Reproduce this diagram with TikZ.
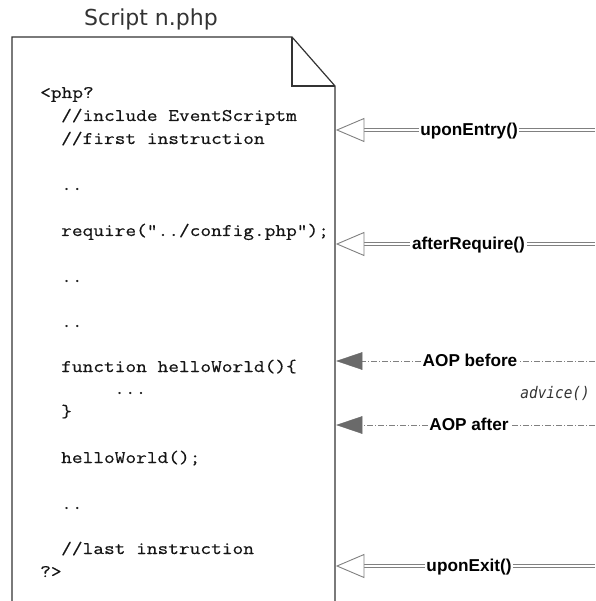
\documentclass[tikz,border=0pt]{standalone}
\usepackage{fontspec}
\setmainfont{Liberation Sans}
\newfontfamily\codefont[FakeStretch=1.175,FakeBold=0.5]{Latin Modern Mono}
\newfontfamily\titlefont{DejaVu Sans}
\newfontfamily\advfont[FakeStretch=0.9]{DejaVu Sans Mono}
\definecolor{docgray}{HTML}{333333}
\definecolor{linegray}{HTML}{808080}
\definecolor{trigray}{HTML}{6A6A6A}
\definecolor{codeblack}{HTML}{151515}
\begin{document}
\begin{tikzpicture}[x=1pt,y=-1pt,
  code/.style={anchor=base west, inner sep=0pt, text=codeblack, font=\codefont\fontsize{17.7}{20}\selectfont},
  lbl/.style={anchor=base, fill=white, inner xsep=1.5pt, inner ysep=1pt, font=\bfseries\fontsize{17.2}{20}\selectfont},
  dbl/.style={draw=linegray, line width=0.8pt, double=white, double distance=2.4pt},
  dashline/.style={draw=linegray, line width=0.8pt, dash pattern=on 6pt off 2pt on 1pt off 2pt},
  opentri/.style={draw=linegray, line width=0.9pt, fill=white, line join=miter},
  filltri/.style={fill=trigray, draw=trigray, line width=0.5pt, line join=miter},
  doc/.style={draw=docgray, line width=1.2pt, line join=miter}]

\useasboundingbox (0,0) rectangle (595,601);

% title
\node[anchor=base, inner sep=0pt, text=docgray, font=\titlefont\fontsize{22}{26}\selectfont] (title) at (151,26) {Script n.php};

% document outline with folded corner
\draw[doc] (12,601) -- (12,37) -- (292,37) -- (335,86) -- (335,601);
\draw[doc] (292,37) -- (292,86) -- (335,86);

% code lines
\node[code] (l1)  at (40,98)  {<php?};
\node[code] (l2)  at (61,121) {//include EventScriptm};
\node[code] (l3)  at (61,144) {//first instruction};
\node[code] (l4)  at (61,190) {..};
\node[code] (l5)  at (61,236) {require("../config.php");};
\node[code] (l6)  at (61,282) {..};
\node[code] (l7)  at (61,327) {..};
\node[code] (l8)  at (61,372) {function helloWorld()\{};
\node[code] (l9)  at (114,394) {...};
\node[code] (l10) at (61,417) {\}};
\node[code] (l11) at (61,463) {helloWorld();};
\node[code] (l12) at (61,509) {..};
\node[code] (l13) at (61,554) {//last instruction};
\node[code] (l14) at (40,577) {?>};

% ---- uponEntry()
\coordinate (aR) at (595,130);
\coordinate (aB) at (364,130);
\coordinate (aT) at (337,130);
\node[lbl] (entry) at (469,135.5) {uponEntry()};
\draw[dbl] (aR) -- (entry.east |- aR);
\draw[dbl] (entry.west |- aR) -- (aB);
\draw[opentri] (aT) -- ++(27,-11.5) -- ++(0,23) -- cycle;

% ---- afterRequire()
\coordinate (bR) at (595,244);
\coordinate (bB) at (364,244);
\coordinate (bT) at (337,244);
\node[lbl] (require) at (468.5,249.5) {afterRequire()};
\draw[dbl] (bR) -- (require.east |- bR);
\draw[dbl] (require.west |- bR) -- (bB);
\draw[opentri] (bT) -- ++(27,-11.5) -- ++(0,23) -- cycle;

% ---- AOP before
\coordinate (cR) at (595,361);
\coordinate (cB) at (362,361);
\coordinate (cT) at (337,361);
\node[lbl] (before) at (470,366) {AOP before};
\draw[dashline] (cR) -- (before.east |- cR);
\draw[dashline] (before.west |- cR) -- (cB);
\draw[filltri] (cT) -- ++(25,-8.5) -- ++(0,17) -- cycle;

% advice()
\node[anchor=base east, inner sep=0pt, text=docgray, font=\advfont\itshape\fontsize{16}{19}\selectfont] (advice) at (590,398) {advice()};

% ---- AOP after
\coordinate (dR) at (595,425);
\coordinate (dB) at (362,425);
\coordinate (dT) at (337,425);
\node[lbl] (after) at (469,430) {AOP after};
\draw[dashline] (dR) -- (after.east |- dR);
\draw[dashline] (after.west |- dR) -- (dB);
\draw[filltri] (dT) -- ++(25,-8.5) -- ++(0,17) -- cycle;

% ---- uponExit()
\coordinate (eR) at (595,566);
\coordinate (eB) at (364,566);
\coordinate (eT) at (337,566);
\node[lbl] (exit) at (469,571.5) {uponExit()};
\draw[dbl] (eR) -- (exit.east |- eR);
\draw[dbl] (exit.west |- eR) -- (eB);
\draw[opentri] (eT) -- ++(27,-11.5) -- ++(0,23) -- cycle;
\end{tikzpicture}
\end{document}
